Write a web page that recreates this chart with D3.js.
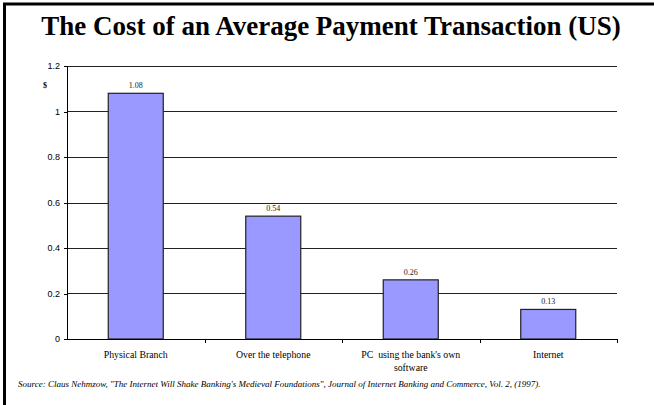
<!DOCTYPE html>
<meta charset="utf-8">
<style>
body { margin: 0; background: #fff; }
svg { display: block; font-family: "Liberation Serif", serif; }
.grid line { stroke: #222; stroke-width: 1; shape-rendering: crispEdges; }
.axis path, .axis line { stroke: #000; shape-rendering: crispEdges; }
.axis text { font-size: 9px; fill: #000; }
.bar { fill: #9999ff; stroke: #222; stroke-width: 1.2; }
</style>
<body>
<script src="https://cdn.jsdelivr.net/npm/d3@7"></script>
<script>

var categories = ["Physical Branch", "Over the telephone", "PC  using the bank's own|software", "Internet"];
var costs = [1.08, 0.54, 0.26, 0.13];
var yTicks = [0, 0.2, 0.4, 0.6, 0.8, 1, 1.2];

var W = 654, H = 405;
var margin = {top: 66, right: 37, bottom: 66, left: 67},
    width = W - margin.left - margin.right,
    height = H - margin.top - margin.bottom;

var svg = d3.select("body").append("svg")
    .attr("width", W)
    .attr("height", H);

// slide frame (top and left edges)
svg.append("line").attr("x1", 3).attr("x2", W).attr("y1", 4).attr("y2", 4)
    .attr("stroke", "#000").attr("stroke-width", 3);
svg.append("line").attr("x1", 4.5).attr("x2", 4.5).attr("y1", 3).attr("y2", H)
    .attr("stroke", "#000").attr("stroke-width", 3);

svg.append("text")
    .attr("x", 331)
    .attr("y", 35)
    .attr("text-anchor", "middle")
    .style("font-size", "27px")
    .style("font-weight", "bold")
    .text("The Cost of an Average Payment Transaction (US)");

var g = svg.append("g")
    .attr("transform", "translate(" + margin.left + "," + margin.top + ")");

var x = d3.scaleBand()
    .domain(categories)
    .range([0, width])
    .paddingInner(0)
    .paddingOuter(0);

var y = d3.scaleLinear()
    .domain([0, 1.2])
    .range([height, 0]);

g.append("g")
    .attr("class", "grid")
  .selectAll("line")
    .data(yTicks.slice(1))
  .enter().append("line")
    .attr("x1", 0)
    .attr("x2", width)
    .attr("y1", function(d) { return Math.round(y(d)) + 0.5; })
    .attr("y2", function(d) { return Math.round(y(d)) + 0.5; });

var bw = x.bandwidth() * 0.4;

g.selectAll(".bar")
    .data(costs)
  .enter().append("rect")
    .attr("class", "bar")
    .attr("x", function(d, i) { return x(categories[i]) + (x.bandwidth() - bw) / 2; })
    .attr("y", function(d) { return y(d); })
    .attr("width", bw)
    .attr("height", function(d) { return height - y(d); });

g.selectAll(".val")
    .data(costs)
  .enter().append("text")
    .attr("class", "val")
    .attr("x", function(d, i) { return x(categories[i]) + x.bandwidth() / 2; })
    .attr("y", function(d) { return y(d) - 5; })
    .attr("text-anchor", "middle")
    .style("font-size", "8px")
    .style("fill", "#222")
    .text(function(d) { return d; });

var yAxis = d3.axisLeft(y)
    .tickValues(yTicks)
    .tickSize(3)
    .tickPadding(4)
    .tickFormat(function(d) { return d; });

g.append("g")
    .attr("class", "axis")
    .call(yAxis)
    .call(function(s) { s.select(".domain").attr("d", "M0.5," + height + "V0"); });

var xAxis = g.append("g")
    .attr("class", "axis")
    .attr("transform", "translate(0," + height + ")");

xAxis.append("line")
    .attr("x1", 0).attr("x2", width)
    .attr("y1", 0.5).attr("y2", 0.5);

xAxis.selectAll(".tk")
    .data(categories)
  .enter().append("line")
    .attr("class", "tk")
    .attr("x1", function(d) { return Math.round(x(d) + x.bandwidth()) + 0.5; })
    .attr("x2", function(d) { return Math.round(x(d) + x.bandwidth()) + 0.5; })
    .attr("y1", 0)
    .attr("y2", 4);

xAxis.selectAll(".cat")
    .data(categories)
  .enter().append("text")
    .attr("class", "cat")
    .attr("x", function(d) { return x(d) + x.bandwidth() / 2; })
    .attr("y", 19)
    .attr("text-anchor", "middle")
    .style("font-size", "9.8px")
    .each(function(d) {
      var parts = d.split("|");
      var t = d3.select(this);
      parts.forEach(function(p, i) {
        t.append("tspan")
          .attr("x", x(d) + x.bandwidth() / 2)
          .attr("dy", i ? 13 : 0)
          .style("white-space", "pre")
          .text(p);
      });
    });

svg.append("text")
    .attr("x", 43)
    .attr("y", 88)
    .style("font-size", "8px")
    .style("font-weight", "bold")
    .text("$");

svg.append("text")
    .attr("x", 18)
    .attr("y", 387)
    .style("font-size", "9px")
    .style("font-style", "italic")
    .text("Source: Claus Nehmzow, \"The Internet Will Shake Banking's Medieval Foundations\", Journal of Internet Banking and Commerce, Vol. 2, (1997).");

</script>
